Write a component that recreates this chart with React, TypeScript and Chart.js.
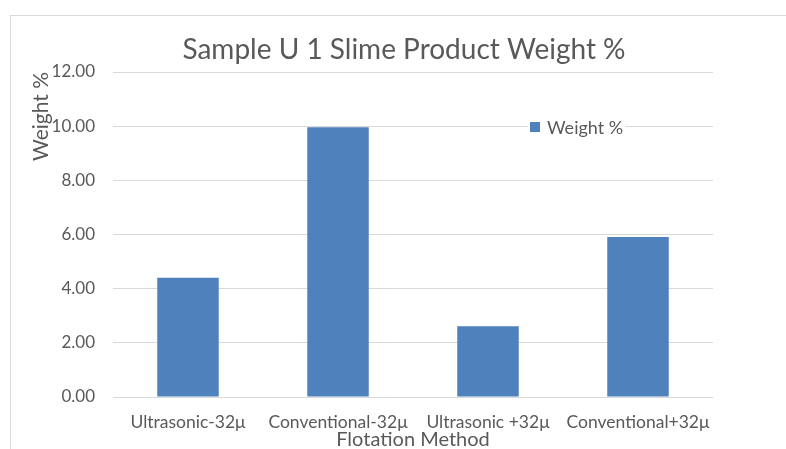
import React, { useEffect, useRef } from "react";
import { Chart, registerables } from "chart.js";

Chart.register(...registerables);

const categories = ["Ultrasonic-32\u03bc", "Conventional-32\u03bc", "Ultrasonic +32\u03bc", "Conventional+32\u03bc"];
const weightPercent = [4.4, 9.96, 2.61, 5.91];
const seriesLabel = "Weight %";
const chartTitle = "Sample U 1 Slime Product Weight %";
const xTitle = "Flotation Method";
const yTitle = "Weight %";

const FONT = "Lato";
const TEXT = "#595959";
const BAR = "#4F81BD";

const framePlugin = {
  id: "frame",
  beforeDraw(chart: any) {
    const { ctx } = chart;
    ctx.save();
    ctx.fillStyle = "#ffffff";
    ctx.fillRect(0, 0, chart.width, chart.height);
    ctx.strokeStyle = "#d9d9d9";
    ctx.lineWidth = 1;
    ctx.strokeRect(10.5, 15.5, 900, 600);
    ctx.restore();
  },
  afterDraw(chart: any) {
    const { ctx } = chart;
    ctx.save();
    ctx.fillStyle = TEXT;
    ctx.font = `28px ${FONT}`;
    ctx.textAlign = "center";
    ctx.textBaseline = "middle";
    ctx.fillText(chartTitle, 404, 50);
    // legend inside plot area
    const ds = chart.data.datasets[0];
    ctx.font = `18px ${FONT}`;
    const label = ds.label as string;
    const tw = ctx.measureText(label).width;
    const x0 = 530;
    const yc = 127;
    ctx.fillStyle = "#ffffff";
    ctx.fillRect(x0 - 2, yc - 10, 10 + 7 + tw + 4, 20);
    ctx.fillStyle = ds.backgroundColor;
    ctx.fillRect(x0, yc - 5, 10, 10);
    ctx.fillStyle = TEXT;
    ctx.textAlign = "left";
    ctx.fillText(label, x0 + 17, yc + 1);
    ctx.restore();
  },
};

export default function App() {
  const ref = useRef<HTMLCanvasElement | null>(null);
  useEffect(() => {
    document.body.style.margin = "0";
    const chart = new Chart(ref.current!, {
      type: "bar",
      data: {
        labels: categories,
        datasets: [
          {
            label: seriesLabel,
            data: weightPercent,
            backgroundColor: BAR,
            borderWidth: 0,
            categoryPercentage: 1,
            barPercentage: 0.41,
          },
        ],
      },
      options: {
        responsive: false,
        animation: false,
        devicePixelRatio: 1,
        layout: { padding: { top: 72, right: 73, left: 28, bottom: 0 } },
        plugins: {
          legend: { display: false },
          title: { display: false },
          tooltip: { enabled: false },
        },
        scales: {
          x: {
            grid: { display: false, drawTicks: false },
            border: { display: false },
            ticks: { color: TEXT, font: { family: FONT, size: 17.5 }, padding: 15, maxRotation: 0, autoSkip: false },
            title: {
              display: true,
              text: xTitle,
              color: TEXT,
              font: { family: FONT, size: 20 },
              padding: { top: 0, bottom: -3 },
            },
            afterFit(scale: any) {
              scale.height = 52;
            },
          },
          y: {
            min: 0,
            max: 12,
            ticks: {
              stepSize: 2,
              color: TEXT,
              font: { family: FONT, size: 17 },
              padding: 18,
              callback: (v: any) => Number(v).toFixed(2),
            },
            grid: { color: "#d9d9d9", drawTicks: false },
            border: { display: false },
            title: {
              display: true,
              text: yTitle,
              align: "end",
              color: TEXT,
              font: { family: FONT, size: 21 },
              padding: { top: 1, bottom: 0 },
            },
            afterFit(scale: any) {
              scale.width = 85;
            },
          },
        },
      },
      plugins: [framePlugin],
    });
    return () => chart.destroy();
  }, []);
  return (
    <div style={{ position: "fixed", left: 0, top: 0, width: 786, height: 449 }}>
      <canvas ref={ref} width={786} height={449} />
    </div>
  );
}
